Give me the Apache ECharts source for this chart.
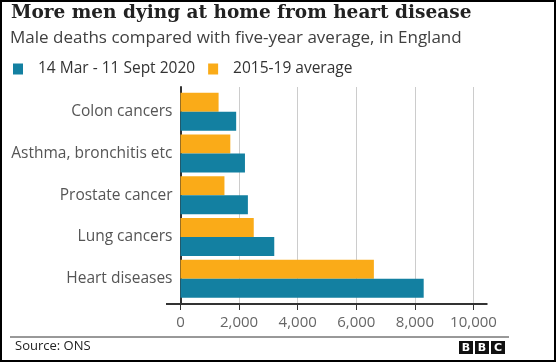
<!DOCTYPE html>
<html>
<head>
<meta charset="utf-8">
<script src="https://cdn.jsdelivr.net/npm/echarts@6/dist/echarts.min.js"></script>
<style>
html,body{margin:0;padding:0;background:#fff;}
#chart{width:556px;height:362px;}
</style>
</head>
<body>
<div id="chart"></div>
<script>
// Categories listed bottom-to-top (ECharts category y axis runs upward)
const categories = ["Heart diseases", "Lung cancers", "Prostate cancer", "Asthma, bronchitis etc", "Colon cancers"];
const deaths2020 = [8300, 3200, 2300, 2200, 1900];
const average2015_19 = [6600, 2500, 1500, 1700, 1300];
const seriesNames = ["14 Mar - 11 Sept 2020", "2015-19 average"];
const xTicks = [0, 2000, 4000, 6000, 8000, 10000];

const BLUE = "#1380A1", ORANGE = "#FAAB18";
const SANS = "'Open Sans', 'Noto Sans', sans-serif";

const chart = echarts.init(document.getElementById('chart'), null, {renderer: 'canvas'});
const option = {
  animation: false,
  backgroundColor: '#fff',
  title: [
    {text: "More men dying at home from heart disease", left: 11, top: 4, padding: 0,
     textStyle: {fontFamily: "'DejaVu Serif', serif", fontWeight: 'bold', fontSize: 18.5, color: '#222'}},
    {text: "Male deaths compared with five-year average, in England", left: 10, top: 30, padding: 0,
     textStyle: {fontFamily: SANS, fontWeight: 'normal', fontSize: 17, color: '#404040'}},
    {text: "Source: ONS", left: 15, top: 340, padding: 0,
     textStyle: {fontFamily: SANS, fontWeight: 'normal', fontSize: 13, color: '#222'}}
  ],
  legend: {
    left: 13, top: 61, padding: 0, itemWidth: 10, itemHeight: 11, itemGap: 13,
    icon: 'rect',
    data: seriesNames,
    textStyle: {fontFamily: SANS, fontSize: 15.5, color: '#333', padding: [0, 0, 0, 10]}
  },
  grid: [
    {left: 180.5, width: 293, top: 87, height: 217, containLabel: false},
    {left: 180.5, width: 293, top: 90.8, height: 208.9, containLabel: false}
  ],
  xAxis: [
    {gridIndex: 0, type: 'value', min: 0, max: 10000, interval: 2000,
     axisLine: {show: false},
     axisTick: {show: true, length: 6, lineStyle: {color: '#333', width: 1}},
     splitLine: {show: true, lineStyle: {color: '#cccccc', width: 1}},
     axisLabel: {margin: 11, fontFamily: SANS, fontSize: 15, color: '#666',
       formatter: v => xTicks.includes(v) ? v.toLocaleString('en-GB') : ''}},
    {gridIndex: 1, type: 'value', min: 0, max: 10000, show: false}
  ],
  yAxis: [
    {gridIndex: 0, type: 'category', data: categories,
     axisLine: {show: true, lineStyle: {color: '#333', width: 2}},
     axisTick: {show: false}, axisLabel: {show: false}, splitLine: {show: false}},
    {gridIndex: 1, type: 'category', data: categories,
     axisLine: {show: false}, axisTick: {show: false},
     axisLabel: {margin: 8, fontFamily: SANS, fontSize: 15.5, color: '#555'}}
  ],
  series: [
    {name: seriesNames[1], type: 'bar', xAxisIndex: 1, yAxisIndex: 1, data: average2015_19,
     itemStyle: {color: ORANGE}, barWidth: 19, barGap: '0%'},
    {name: seriesNames[0], type: 'bar', xAxisIndex: 1, yAxisIndex: 1, data: deaths2020,
     itemStyle: {color: BLUE}, barWidth: 19, barGap: '0%'}
  ],
  graphic: [
    {type: 'line', shape: {x1: 166, y1: 304, x2: 487.5, y2: 304}, style: {stroke: '#333', lineWidth: 2}, z: 10},
    {type: 'line', shape: {x1: 10, y1: 337, x2: 509, y2: 337}, style: {stroke: '#333', lineWidth: 1}},
    {type: 'group', left: 459, top: 341, children: [
      {type: 'rect', shape: {x: 0, y: 0, width: 14, height: 13}, style: {fill: '#111'}},
      {type: 'rect', shape: {x: 16, y: 0, width: 14, height: 13}, style: {fill: '#111'}},
      {type: 'rect', shape: {x: 32, y: 0, width: 14, height: 13}, style: {fill: '#111'}},
      {type: 'text', x: 7, y: 7, style: {text: 'B', fill: '#fff', font: "bold 11px 'DejaVu Sans', sans-serif", textAlign: 'center', textVerticalAlign: 'middle'}},
      {type: 'text', x: 23, y: 7, style: {text: 'B', fill: '#fff', font: "bold 11px 'DejaVu Sans', sans-serif", textAlign: 'center', textVerticalAlign: 'middle'}},
      {type: 'text', x: 39, y: 7, style: {text: 'C', fill: '#fff', font: "bold 11px 'DejaVu Sans', sans-serif", textAlign: 'center', textVerticalAlign: 'middle'}}
    ]},
    {type: 'rect', shape: {x: 1, y: 1, width: 554, height: 360}, style: {fill: 'none', stroke: '#000', lineWidth: 2}, z: 100}
  ]
};
chart.setOption(option);
</script>
</body>
</html>
